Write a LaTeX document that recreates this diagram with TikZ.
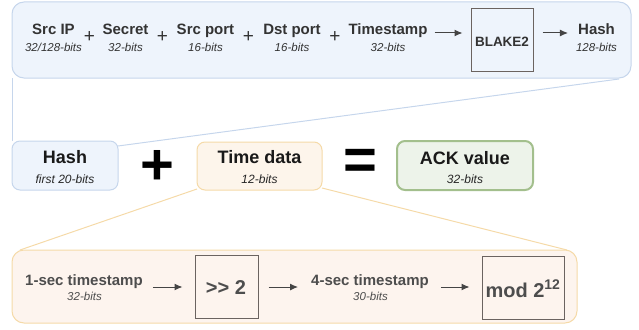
\documentclass[tikz,border=0pt]{standalone}
\usepackage{fontspec}
\setmainfont{Liberation Sans}
\usetikzlibrary{arrows.meta,calc}
\definecolor{bfill}{HTML}{EEF4FC}
\definecolor{bline}{HTML}{C6D6EC}
\definecolor{ofill}{HTML}{FDF5EB}
\definecolor{oline}{HTML}{F5DAA8}
\definecolor{pfill}{HTML}{FDF4EE}
\definecolor{gfill}{HTML}{EDF3EA}
\definecolor{gline}{HTML}{A3BF8D}
\definecolor{txt}{HTML}{333333}
\definecolor{btxt}{HTML}{4D4D4D}
\definecolor{arrc}{HTML}{444444}
\definecolor{boxc}{HTML}{6B6360}
\begin{document}
\begin{tikzpicture}[x=1pt,y=-1pt,
  ttl/.style={anchor=base, font=\fontsize{15}{18}\selectfont\bfseries, text=txt, inner sep=0pt},
  sub/.style={anchor=base, font=\fontsize{11.5}{14}\selectfont\itshape, text=txt, inner sep=0pt},
  plus/.style={anchor=base, font=\fontsize{19}{20}\selectfont, text=txt, inner sep=0pt},
  mttl/.style={anchor=base, font=\fontsize{18}{20}\selectfont\bfseries, text=black!90, inner sep=0pt},
  msub/.style={anchor=base, font=\fontsize{12}{14}\selectfont\itshape, text=black!85, inner sep=0pt},
  bttl/.style={anchor=base, font=\fontsize{15}{18}\selectfont\bfseries, text=btxt, inner sep=0pt},
  bsub/.style={anchor=base, font=\fontsize{11.5}{14}\selectfont\itshape, text=btxt, inner sep=0pt},
  panel/.style={draw, rectangle, line width=1pt, inner sep=0pt},
  opbox/.style={draw=boxc, rectangle, line width=1pt, inner sep=0pt, fill=none},
  arr/.style={-{Latex[length=8pt,width=7pt]}, draw=arrc, line width=1pt},
  bigsym/.style={font=\fontsize{58}{60}\selectfont\bfseries, text=black, inner sep=0pt}
]
\useasboundingbox (0,0) rectangle (639,329);

% connector lines (behind boxes)
\coordinate (topL) at (12,78);
\coordinate (topR) at (619,79);
\coordinate (botL) at (20,250);
\coordinate (botR) at (567,250);
\coordinate (hashR) at (118,146);
\draw[bline, line width=1pt] (12,141) -- (topL);
\draw[bline, line width=1pt] (hashR) -- (topR);
\draw[oline, line width=1pt] (197,189) -- (botL);
\draw[oline, line width=1pt] (322,188) -- (botR);

% top panel
\node[panel, draw=bline, fill=bfill, rounded corners=12pt, minimum width=619pt, minimum height=76pt] (top) at (321.5,40) {};
\node[ttl] (ipT) at (53.5,35) {Src IP};
\node[sub] (ipS) at (53.5,51.5) {32/128-bits};
\node[plus] (p1) at (89.5,43) {+};
\node[ttl] (secT) at (125.5,35) {Secret};
\node[sub] (secS) at (125.5,51.5) {32-bits};
\node[plus] (p2) at (162.5,43) {+};
\node[ttl] (spT) at (205.5,35) {Src port};
\node[sub] (spS) at (205.5,51.5) {16-bits};
\node[plus] (p3) at (248.5,43) {+};
\node[ttl] (dpT) at (292,35) {Dst port};
\node[sub] (dpS) at (292,51.5) {16-bits};
\node[plus] (p4) at (335,43) {+};
\node[ttl] (tsT) at (388,35) {Timestamp};
\node[sub] (tsS) at (388,51.5) {32-bits};
\node[opbox, minimum width=62pt, minimum height=63pt] (blake) at (502,40) {};
\node[anchor=base, font=\fontsize{13.5}{15}\selectfont\bfseries, text=txt, inner sep=0pt] (blakeT) at (502,47) {BLAKE2};
\node[ttl] (hT) at (596.5,35) {Hash};
\node[sub] (hS) at (596.5,51.5) {128-bits};
\coordinate (ay) at (0,33);
\draw[arr, shorten <=7pt, shorten >=8pt] (tsT.east |- ay) -- (blake.west |- ay);
\draw[arr, shorten <=9pt, shorten >=10pt] (blake.east |- ay) -- (hT.west |- ay);

% middle row
\node[panel, draw=bline, fill=bfill, rounded corners=8pt, minimum width=106pt, minimum height=49pt] (hash) at (65,165.5) {};
\node[mttl] (hashT) at (65,163) {Hash};
\node[msub] (hashS) at (65,183) {first 20-bits};
\node[bigsym] (plusbig) at (157,167) {+};
\node[panel, draw=oline, fill=ofill, rounded corners=8pt, minimum width=125pt, minimum height=48pt] (time) at (259.5,166) {};
\node[mttl] (timeT) at (259.5,163) {Time data};
\node[msub] (timeS) at (259.5,183) {12-bits};
\node[bigsym] (eq) at (360,164) {=};
\node[panel, draw=gline, fill=gfill, line width=2pt, rounded corners=8pt, minimum width=136pt, minimum height=49pt] (ack) at (465,165.5) {};
\node[mttl] (ackT) at (465,164) {ACK value};
\node[msub] (ackS) at (465,183) {32-bits};

% bottom panel
\node[panel, draw=oline, fill=pfill, rounded corners=12pt, minimum width=565pt, minimum height=73pt] (bot) at (294.5,286.5) {};
\node[bttl] (t1T) at (84,285) {1-sec timestamp};
\node[bsub] (t1S) at (84.5,300.5) {32-bits};
\node[opbox, minimum width=63pt, minimum height=63pt] (shr) at (226.5,286.5) {};
\node[anchor=base, font=\fontsize{20}{22}\selectfont\bfseries, text=btxt, inner sep=0pt] (shrT) at (226,294) {>{}> 2};
\node[bttl] (t4T) at (370,285) {4-sec timestamp};
\node[bsub] (t4S) at (370.5,300.5) {30-bits};
\node[opbox, minimum width=82pt, minimum height=63pt] (mod) at (523,287.5) {};
\node[anchor=base, font=\fontsize{20}{22}\selectfont\bfseries, text=btxt, inner sep=0pt] (modT) at (523,297) {mod 2\textsuperscript{12}};
\coordinate (by) at (0,287);
\draw[arr, shorten <=10pt, shorten >=12pt] (t1T.east |- by) -- (shr.west |- by);
\draw[arr, shorten <=10pt, shorten >=13pt] (shr.east |- by) -- (t4T.west |- by);
\draw[arr, shorten <=12pt, shorten >=12pt] (t4T.east |- by) -- (mod.west |- by);
\end{tikzpicture}
\end{document}
